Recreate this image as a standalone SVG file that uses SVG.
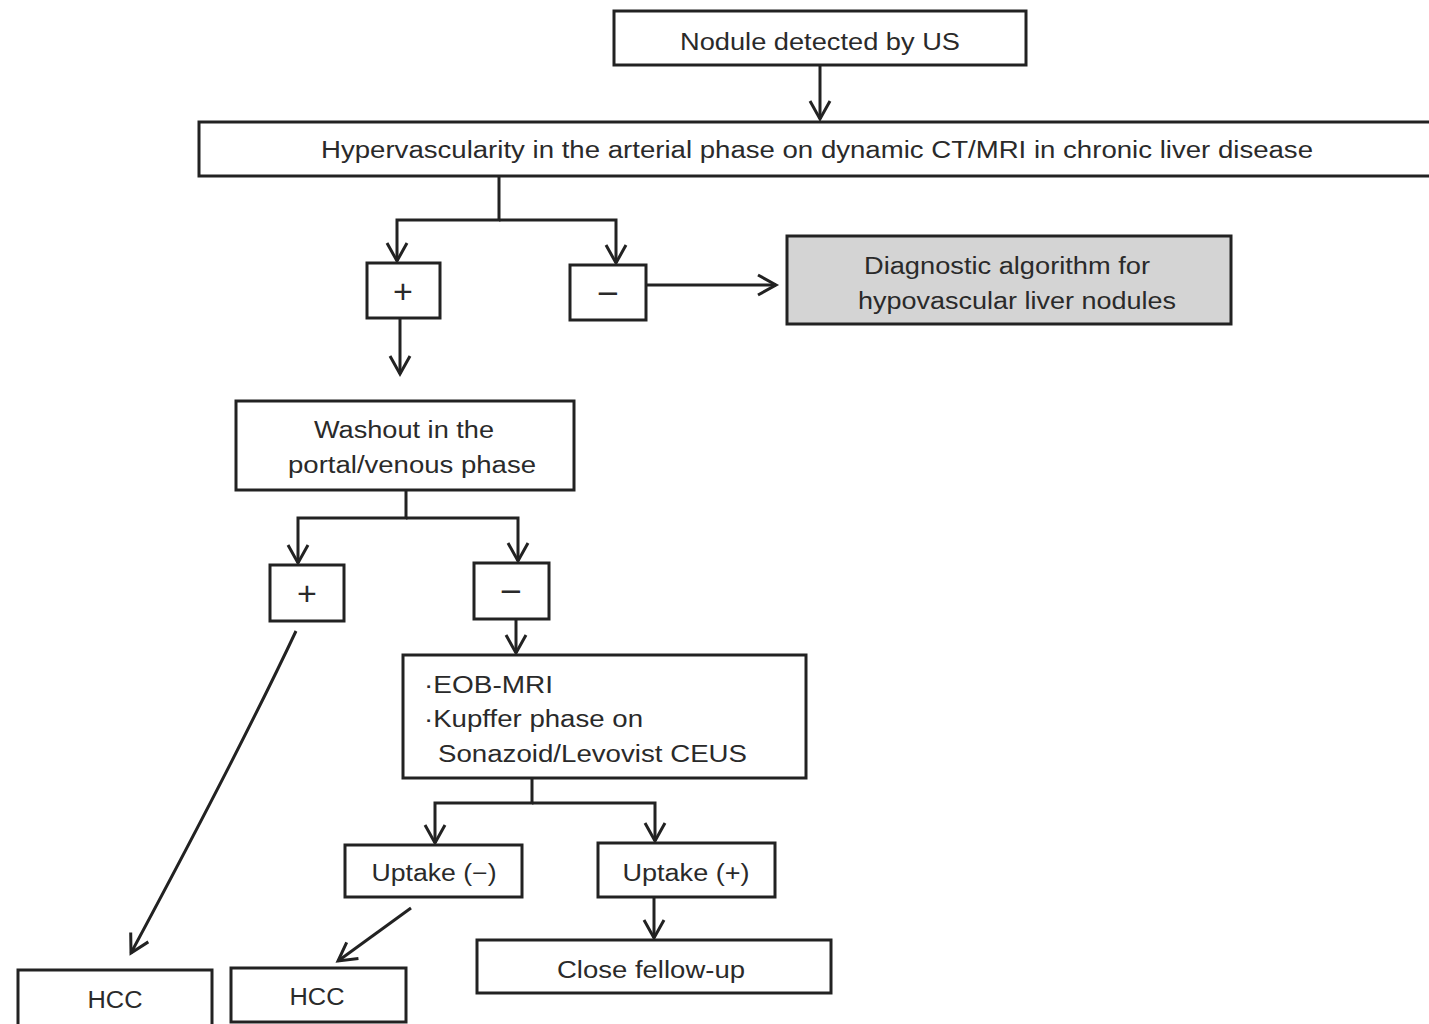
<svg xmlns="http://www.w3.org/2000/svg" width="1429" height="1024" viewBox="0 0 1429 1024">
<style>
.box{fill:#fff;stroke:#222;stroke-width:3}
.gray{fill:#d4d4d4;stroke:#222;stroke-width:3}
.t{font-family:"Liberation Sans","Noto Sans CJK JP",sans-serif;font-size:23px;fill:#2a2a2a;text-anchor:middle;dominant-baseline:central}
.tl{font-family:"Liberation Sans","Noto Sans CJK JP",sans-serif;font-size:23px;fill:#2a2a2a;dominant-baseline:central}
.pm{font-family:"Liberation Sans","Noto Sans CJK JP",sans-serif;font-size:34px;fill:#2a2a2a;text-anchor:middle;dominant-baseline:central}
.c{fill:none;stroke:#222;stroke-width:3}
</style>
<defs>
<marker id="ahb" markerWidth="24" markerHeight="24" refX="20" refY="12" orient="auto" markerUnits="userSpaceOnUse" viewBox="0 0 24 24">
<path d="M2,2 L20,12 L2,22" fill="none" stroke="#222" stroke-width="3"/>
</marker>
</defs>
<rect width="1429" height="1024" fill="#fff"/>
<g id="connectors">
<path class="c" d="M820,65 V119" marker-end="url(#ahb)"/>
<path class="c" d="M499,176 V220 H397 V261" marker-end="url(#ahb)"/>
<path class="c" d="M499,220 H616 V263" marker-end="url(#ahb)"/>
<path class="c" d="M646,285 H776" marker-end="url(#ahb)"/>
<path class="c" d="M400,318 V374" marker-end="url(#ahb)"/>
<path class="c" d="M406,490 V518 H298 V563" marker-end="url(#ahb)"/>
<path class="c" d="M406,518 H518 V561" marker-end="url(#ahb)"/>
<path class="c" d="M516,619 V653" marker-end="url(#ahb)"/>
<path class="c" d="M532,778 V803 H435 V843" marker-end="url(#ahb)"/>
<path class="c" d="M532,803 H655 V841" marker-end="url(#ahb)"/>
<path class="c" d="M654,897 V938" marker-end="url(#ahb)"/>
<path class="c" d="M296,631 Q240,750 131,953" marker-end="url(#ahb)"/>
<path class="c" d="M411,908 L338,961" marker-end="url(#ahb)"/>
</g>
<g id="n1"><rect class="box" x="614" y="11" width="412" height="54"/><text class="t" x="820" y="42" textLength="280" lengthAdjust="spacingAndGlyphs">Nodule detected by US</text></g>
<g id="n2"><rect class="box" x="199" y="122" width="1240" height="54"/><text class="t" x="817" y="150" textLength="992" lengthAdjust="spacingAndGlyphs">Hypervascularity in the arterial phase on dynamic CT/MRI in chronic liver disease</text></g>
<g id="n3"><rect class="box" x="367" y="263" width="73" height="55"/><text class="pm" x="403" y="291">+</text></g>
<g id="n4"><rect class="box" x="570" y="265" width="76" height="55"/><text class="pm" x="608" y="293" textLength="22" lengthAdjust="spacingAndGlyphs">−</text></g>
<g id="n5"><rect class="gray" x="787" y="236" width="444" height="88"/><text class="t" x="1007" y="266" textLength="286" lengthAdjust="spacingAndGlyphs">Diagnostic algorithm for</text><text class="t" x="1017" y="301" textLength="318" lengthAdjust="spacingAndGlyphs">hypovascular liver nodules</text></g>
<g id="n6"><rect class="box" x="236" y="401" width="338" height="89"/><text class="t" x="404" y="430" textLength="180" lengthAdjust="spacingAndGlyphs">Washout in the</text><text class="t" x="412" y="465" textLength="248" lengthAdjust="spacingAndGlyphs">portal/venous phase</text></g>
<g id="n7"><rect class="box" x="270" y="565" width="74" height="56"/><text class="pm" x="307" y="593">+</text></g>
<g id="n8"><rect class="box" x="474" y="563" width="75" height="56"/><text class="pm" x="511" y="591" textLength="22" lengthAdjust="spacingAndGlyphs">−</text></g>
<g id="n9"><rect class="box" x="403" y="655" width="403" height="123"/><text class="tl" x="424" y="685" textLength="129" lengthAdjust="spacingAndGlyphs">·EOB-MRI</text><text class="tl" x="424" y="719" textLength="219" lengthAdjust="spacingAndGlyphs">·Kupffer phase on</text><text class="tl" x="438" y="754" textLength="309" lengthAdjust="spacingAndGlyphs">Sonazoid/Levovist CEUS</text></g>
<g id="n10"><rect class="box" x="345" y="845" width="177" height="52"/><text class="t" x="434" y="873" textLength="125" lengthAdjust="spacingAndGlyphs">Uptake (−)</text></g>
<g id="n11"><rect class="box" x="598" y="843" width="177" height="54"/><text class="t" x="686" y="873" textLength="127" lengthAdjust="spacingAndGlyphs">Uptake (+)</text></g>
<g id="n12"><rect class="box" x="477" y="940" width="354" height="53"/><text class="t" x="651" y="970" textLength="188" lengthAdjust="spacingAndGlyphs">Close fellow-up</text></g>
<g id="n13"><rect class="box" x="18" y="970" width="194" height="60"/><text class="t" x="115" y="1000" textLength="55" lengthAdjust="spacingAndGlyphs">HCC</text></g>
<g id="n14"><rect class="box" x="231" y="968" width="175" height="54"/><text class="t" x="317" y="997" textLength="55" lengthAdjust="spacingAndGlyphs">HCC</text></g>
</svg>
